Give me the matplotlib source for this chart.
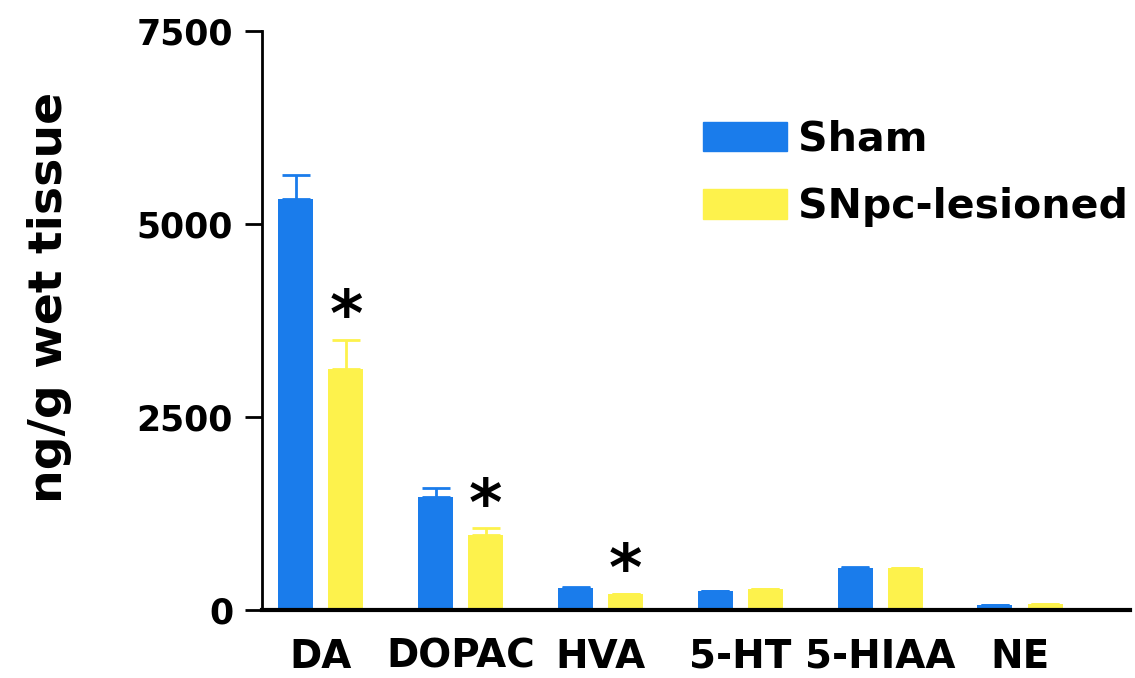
import numpy as np
import matplotlib
matplotlib.use("Agg")
import matplotlib.pyplot as plt
from matplotlib.patches import Patch

plt.rcParams['font.family'] = ['DejaVu Sans']
plt.rcParams['font.weight'] = 'bold'

# monoamine content, ng/g wet tissue (mean and SEM)
analytes = ['DA', 'DOPAC', 'HVA', '5-HT', '5-HIAA', 'NE']
sham_mean = [5320, 1465, 285, 246, 544, 65]
sham_sem = [310, 115, 15, 8, 10, 5]
lesion_mean = [3120, 970, 207, 272, 544, 78]
lesion_sem = [375, 90, 8, 8, 8, 5]
significant = [True, True, True, False, False, False]

blue = '#1a7ceb'
yellow = '#fdf24c'

fig, ax = plt.subplots(figsize=(11.35, 6.78), dpi=100)
fig.subplots_adjust(left=0.231, right=0.996, bottom=0.1, top=0.955)

x = np.arange(len(analytes))
w = 0.25
off = 0.179

ax.bar(x - off, sham_mean, w, color=blue, label='Sham',
       yerr=[np.zeros(len(x)), sham_sem], ecolor=blue,
       error_kw=dict(capsize=10, elinewidth=2, capthick=2))
ax.bar(x + off, lesion_mean, w, color=yellow, label='SNpc-lesioned',
       yerr=[np.zeros(len(x)), lesion_sem], ecolor=yellow,
       error_kw=dict(capsize=10, elinewidth=2, capthick=2))

# significance stars over the lesioned bars
for i, sig in enumerate(significant):
    if sig:
        ax.text(x[i] + off, lesion_mean[i] + lesion_sem[i] + 280, '*',
                ha='center', va='center', fontsize=46, fontweight='bold')

ax.set_xlim(-0.42, 5.79)
ax.set_ylim(0, 7500)
ax.set_yticks([0, 2500, 5000, 7500])
ax.set_xticks(x)
ax.set_xticklabels(analytes, fontsize=28, fontweight='bold')
ax.tick_params(axis='x', length=0, pad=20)
ax.tick_params(axis='y', labelsize=25, length=12, width=2, pad=9)
for lab in ax.get_yticklabels():
    lab.set_fontweight('bold')

ax.spines['top'].set_visible(False)
ax.spines['right'].set_visible(False)
ax.spines['left'].set_linewidth(2)
ax.spines['bottom'].set_linewidth(3)

ax.set_ylabel('ng/g wet tissue', fontsize=34, fontweight='bold')
ax.yaxis.set_label_coords(-0.219, 0.54)

handles = [Patch(color=blue, label='Sham'),
           Patch(color=yellow, label='SNpc-lesioned')]
ax.legend(handles=handles, loc='upper left', bbox_to_anchor=(0.508, 0.846),
          frameon=False, fontsize=29.5, handlelength=2.05, handleheight=0.74,
          handletextpad=0.25, labelspacing=0.67, borderaxespad=0, borderpad=0)

fig.savefig('out.png', dpi=100)
